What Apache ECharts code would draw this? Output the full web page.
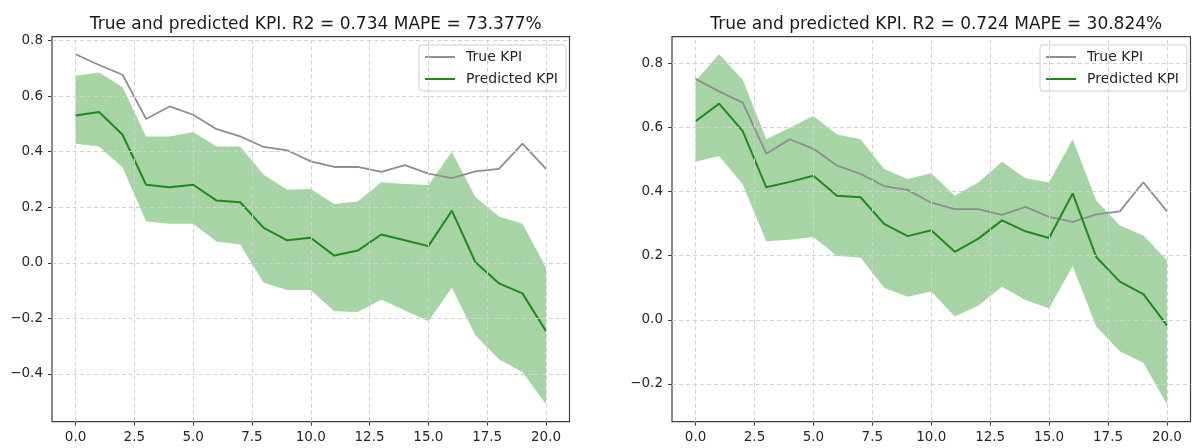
<!DOCTYPE html>
<html>
<head>
<meta charset="utf-8">
<script src="https://cdn.jsdelivr.net/npm/echarts@6/dist/echarts.min.js"></script>
<style>
html,body{margin:0;padding:0;background:#ffffff;}
#chart{width:1193px;height:448px;}
</style>
</head>
<body>
<div id="chart"></div>
<script>
// ---------- data ----------
const steps = [0,1,2,3,4,5,6,7,8,9,10,11,12,13,14,15,16,17,18,19,20];
const trueKPI = [0.751,0.712,0.677,0.518,0.563,0.533,0.481,0.455,0.417,0.405,0.365,0.345,0.345,0.327,0.352,0.321,0.305,0.329,0.338,0.429,0.338];

const predLeft  = [0.530,0.543,0.461,0.281,0.272,0.281,0.224,0.218,0.126,0.081,0.090,0.026,0.044,0.102,0.081,0.060,0.188,0.002,-0.074,-0.110,-0.246];
const upperLeft = [0.673,0.685,0.632,0.455,0.455,0.471,0.419,0.419,0.317,0.263,0.266,0.212,0.221,0.290,0.284,0.280,0.399,0.237,0.167,0.141,-0.018];
const lowerLeft = [0.429,0.419,0.344,0.150,0.141,0.141,0.077,0.066,-0.072,-0.098,-0.098,-0.174,-0.177,-0.132,-0.172,-0.210,-0.090,-0.261,-0.347,-0.393,-0.509];

const predRight  = [0.619,0.674,0.588,0.413,0.430,0.449,0.387,0.382,0.299,0.261,0.279,0.212,0.253,0.310,0.276,0.255,0.394,0.196,0.119,0.080,-0.017];
const upperRight = [0.745,0.828,0.748,0.563,0.599,0.635,0.578,0.563,0.470,0.439,0.457,0.387,0.428,0.493,0.441,0.428,0.563,0.372,0.294,0.263,0.186];
const lowerRight = [0.493,0.511,0.423,0.245,0.250,0.258,0.199,0.194,0.100,0.072,0.088,0.010,0.045,0.103,0.062,0.036,0.168,-0.021,-0.098,-0.134,-0.263];

const titles = [
  'True and predicted KPI. R2 = 0.734 MAPE = 73.377%',
  'True and predicted KPI. R2 = 0.724 MAPE = 30.824%'
];
const seriesNames = ['True KPI', 'Predicted KPI'];
const xTicks = [0, 2.5, 5, 7.5, 10, 12.5, 15, 17.5, 20];
const yTicksLeft = [-0.4, -0.2, 0, 0.2, 0.4, 0.6, 0.8];
const yTicksRight = [-0.2, 0, 0.2, 0.4, 0.6, 0.8];

// ---------- styling / layout ----------
const FONT = 'DejaVu Sans';
const SPINE = '#3d3d3d';
const GRIDC = '#d2d2d2';
const TRUEC = '#8e8e8e';
const PREDC = '#1e8a1e';
const BANDC = '#a6d4a4';

function fmt(v) {
  const s = Math.abs(v).toFixed(1);
  return (v < -1e-9 ? '\u2212' : '') + s;
}
function paddedRange(arrs) {
  let lo = Infinity, hi = -Infinity;
  arrs.forEach(a => a.forEach(v => { lo = Math.min(lo, v); hi = Math.max(hi, v); }));
  const m = (hi - lo) * 0.05;
  return [lo - m, hi + m];
}

const panels = [
  {pred: predLeft, upper: upperLeft, lower: lowerLeft, yTicks: yTicksLeft,
   grid: {left: 52, top: 36.7, width: 517.5, height: 385}, legendRight: 627},
  {pred: predRight, upper: upperRight, lower: lowerRight, yTicks: yTicksRight,
   grid: {left: 672, top: 36.7, width: 518.5, height: 385}, legendRight: 6}
];

const option = {
  animation: false,
  backgroundColor: '#ffffff',
  title: [], grid: [], xAxis: [], yAxis: [], legend: [], series: []
};

panels.forEach((p, k) => {
  const yr = paddedRange([trueKPI, p.pred, p.upper, p.lower]);
  option.grid.push(Object.assign({
    show: true, borderColor: SPINE, borderWidth: 1.2, backgroundColor: 'transparent',
    containLabel: false, outerBoundsMode: 'none'
  }, p.grid));
  option.title.push({
    text: titles[k],
    left: p.grid.left + p.grid.width / 2,
    top: 11,
    textAlign: 'center',
    textStyle: {fontFamily: FONT, fontSize: 17, fontWeight: 'normal', color: '#1a1a1a'}
  });
  option.xAxis.push({
    type: 'value', gridIndex: k, min: -1, max: 21,
    axisLine: {show: false, onZero: false},
    axisTick: {show: true, customValues: xTicks, length: 4, lineStyle: {color: SPINE, width: 1}},
    axisLabel: {customValues: xTicks, formatter: fmt, fontFamily: FONT, fontSize: 13.5, color: '#262626', margin: 9},
    splitLine: {show: false}
  });
  option.yAxis.push({
    type: 'value', gridIndex: k, min: yr[0], max: yr[1],
    axisLine: {show: false, onZero: false},
    axisTick: {show: true, customValues: p.yTicks, length: 4, lineStyle: {color: SPINE, width: 1}},
    axisLabel: {customValues: p.yTicks, formatter: fmt, fontFamily: FONT, fontSize: 13.5, color: '#262626', margin: 9},
    splitLine: {show: false}
  });
  option.legend.push({
    orient: 'vertical',
    right: p.legendRight, top: 45,
    data: seriesNames,
    icon: 'rect', itemWidth: 30, itemHeight: 2, itemGap: 8,
    padding: [5, 8, 5, 6],
    backgroundColor: 'rgba(255,255,255,0.85)',
    borderColor: '#cfcfcf', borderWidth: 1, borderRadius: 3,
    selectedMode: false,
    textStyle: {fontFamily: FONT, fontSize: 14, color: '#262626', lineHeight: 14, padding: [0, 0, 0, 6]}
  });

  // confidence band
  option.series.push({
    type: 'custom', name: 'band' + k, xAxisIndex: k, yAxisIndex: k, z: 1, silent: true,
    data: steps.map((x, i) => [x, p.lower[i], p.upper[i]]),
    encode: {x: 0, y: [1, 2]},
    renderItem: function (params, api) {
      if (params.dataIndex !== 0) return null;
      const pts = [];
      for (let i = 0; i < steps.length; i++) pts.push(api.coord([steps[i], p.upper[i]]));
      for (let i = steps.length - 1; i >= 0; i--) pts.push(api.coord([steps[i], p.lower[i]]));
      return {type: 'polygon', shape: {points: pts}, style: {fill: BANDC}};
    }
  });
  // grid lines
  option.series.push({
    type: 'line', name: 'grid' + k, xAxisIndex: k, yAxisIndex: k, z: 2, silent: true,
    data: [],
    markLine: {
      silent: true, symbol: 'none', animation: false, label: {show: false},
      lineStyle: {color: GRIDC, width: 1, type: [4, 3]},
      emphasis: {disabled: true},
      data: xTicks.map(v => ({xAxis: v})).concat(p.yTicks.map(v => ({yAxis: v})))
    }
  });
  option.series.push({
    type: 'line', name: seriesNames[0], xAxisIndex: k, yAxisIndex: k, z: 3,
    data: steps.map((x, i) => [x, trueKPI[i]]),
    showSymbol: false, symbol: 'none',
    itemStyle: {color: TRUEC},
    lineStyle: {color: TRUEC, width: 1.8}
  });
  option.series.push({
    type: 'line', name: seriesNames[1], xAxisIndex: k, yAxisIndex: k, z: 4,
    data: steps.map((x, i) => [x, p.pred[i]]),
    showSymbol: false, symbol: 'none',
    itemStyle: {color: PREDC},
    lineStyle: {color: PREDC, width: 2}
  });
});

const chart = echarts.init(document.getElementById('chart'), null, {renderer: 'canvas'});
chart.setOption(option);
</script>
</body>
</html>
